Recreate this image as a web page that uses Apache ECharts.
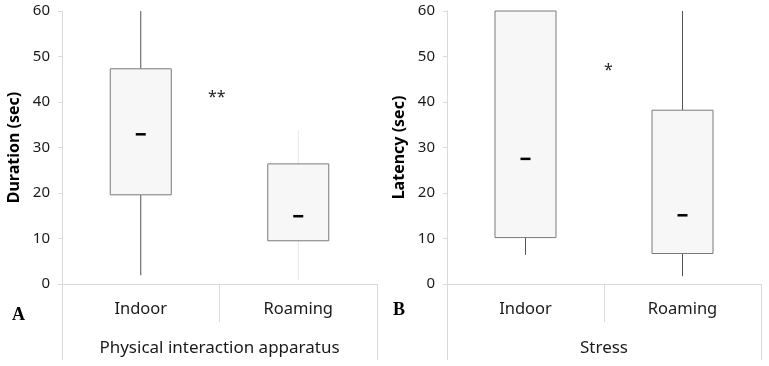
<!DOCTYPE html>
<html>
<head>
<meta charset="utf-8">
<script src="https://cdn.jsdelivr.net/npm/echarts@6/dist/echarts.min.js"></script>
<style>
    html, body { margin: 0; padding: 0; background: #fff; }
    #chart { width: 769px; height: 366px; }
</style>
</head>
<body>
<div id="chart"></div>
<script>
// categories and box stats: [min, q1, median, q3, max]
const categories = ['Indoor', 'Roaming'];
const durationStats = [
    [1.9, 19.6, 32.9, 47.3, 60],
    [0.9, 9.5, 14.9, 26.4, 33.8],
];
const latencyStats = [
    [6.4, 10.2, 27.5, 60, 60],
    [1.7, 6.7, 15.1, 38.2, 60],
];
const yTicks = [0, 10, 20, 30, 40, 50, 60];
const groupA = ['Physical interaction apparatus'];
const groupB = ['Stress'];
// whisker colour per box (Roaming in A is barely visible)
const whiskerColorsA = ['#555', '#e6e6e6'];
const whiskerColorsB = ['#555', '#555'];

const font = 'Noto Sans';
const gridLine = '#d9d9d9';

function toRows(stats) {
    return stats.map((s, i) => [i].concat(s));
}

function makeRender(whiskerColors) {
    return function (params, api) {
        const x = api.value(0);
        const min = api.coord([x, api.value(1)]);
        const q1 = api.coord([x, api.value(2)]);
        const med = api.coord([x, api.value(3)]);
        const q3 = api.coord([x, api.value(4)]);
        const max = api.coord([x, api.value(5)]);
        const halfW = 30.5;
        const cx = min[0];
        const wc = whiskerColors[params.dataIndex];
        return {
            type: 'group',
            children: [
                {
                    type: 'line',
                    shape: { x1: cx, y1: max[1], x2: cx, y2: q3[1] },
                    style: { stroke: wc, lineWidth: 1 },
                },
                {
                    type: 'line',
                    shape: { x1: cx, y1: q1[1], x2: cx, y2: min[1] },
                    style: { stroke: wc, lineWidth: 1 },
                },
                {
                    type: 'rect',
                    shape: { x: cx - halfW, y: q3[1], width: halfW * 2, height: q1[1] - q3[1] },
                    style: { fill: '#f7f7f7', stroke: '#7a7a7a', lineWidth: 1 },
                },
                {
                    type: 'rect',
                    shape: { x: cx - 5, y: med[1] - 1.25, width: 10, height: 2.5 },
                    style: { fill: '#000' },
                },
            ],
        };
    };
}

function xAxes(gridIndex, groupName) {
    return [
        {
            type: 'category',
            gridIndex: gridIndex,
            data: categories,
            axisLine: { show: true, lineStyle: { color: gridLine } },
            axisTick: { show: true, alignWithLabel: false, length: 38, lineStyle: { color: gridLine } },
            axisLabel: { color: '#1a1a1a', fontSize: 16.5, fontFamily: font, margin: 17 },
        },
        {
            type: 'category',
            gridIndex: gridIndex,
            position: 'bottom',
            data: groupName,
            axisLine: { show: false },
            axisTick: { show: true, alignWithLabel: false, length: 76, lineStyle: { color: gridLine } },
            axisLabel: { color: '#1a1a1a', fontSize: 17, fontFamily: font, margin: 56 },
        },
    ];
}

function yAxis(gridIndex, name) {
    return {
        type: 'value',
        gridIndex: gridIndex,
        min: yTicks[0],
        max: yTicks[yTicks.length - 1],
        interval: 10,
        name: name,
        nameLocation: 'middle',
        nameGap: 40,
        nameTextStyle: { color: '#000', fontSize: 16, fontWeight: 'bold', fontFamily: font },
        axisLine: { show: true, lineStyle: { color: gridLine } },
        axisTick: { show: true, length: 4, lineStyle: { color: gridLine } },
        axisLabel: { color: '#1a1a1a', fontSize: 15, fontFamily: font, margin: 12 },
        splitLine: { show: false },
    };
}

const option = {
    animation: false,
    grid: [
        { left: 62, right: 392, top: 11, bottom: 82 },
        { left: 447, right: 8, top: 11, bottom: 82 },
    ],
    xAxis: xAxes(0, groupA).concat(xAxes(1, groupB)),
    yAxis: [yAxis(0, 'Duration (sec)'), yAxis(1, 'Latency (sec)')],
    series: [
        {
            type: 'custom',
            xAxisIndex: 0,
            yAxisIndex: 0,
            renderItem: makeRender(whiskerColorsA),
            data: toRows(durationStats),
        },
        {
            type: 'custom',
            xAxisIndex: 2,
            yAxisIndex: 1,
            renderItem: makeRender(whiskerColorsB),
            data: toRows(latencyStats),
        },
    ],
    graphic: [
        {
            type: 'text', left: 208, top: 89,
            style: { text: '**', fontSize: 16, fontFamily: font, fill: '#222' },
        },
        {
            type: 'text', left: 604, top: 62,
            style: { text: '*', fontSize: 16, fontFamily: font, fill: '#222' },
        },
        {
            type: 'text', left: 12, top: 306,
            style: { text: 'A', fontSize: 18, fontWeight: 'bold', fontFamily: 'Liberation Serif', fill: '#000' },
        },
        {
            type: 'text', left: 393, top: 301,
            style: { text: 'B', fontSize: 18, fontWeight: 'bold', fontFamily: 'Liberation Serif', fill: '#000' },
        },
    ],
};

const myChart = echarts.init(document.getElementById('chart'));
myChart.setOption(option);
</script>
</body>
</html>
